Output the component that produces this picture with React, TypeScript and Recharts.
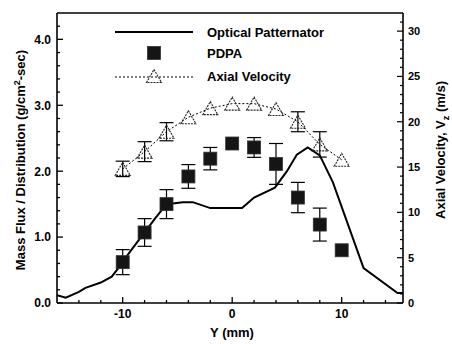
import React from 'react';
import { ComposedChart, Line, Scatter, XAxis, YAxis, ErrorBar, ReferenceLine, Label } from 'recharts';

// Optical patternator curve (Y in mm, mass flux g/cm^2-sec)
const opticalY = [-16, -15.2, -14, -13.4, -12, -11, -10.4, -10, -9, -8, -7, -6, -4.5, -3.6, -2, 0.9, 2, 3.9, 5, 5.9, 6.9, 8, 9.2, 12, 15.1, 15.6];
const opticalFlux = [0.12, 0.08, 0.17, 0.23, 0.31, 0.4, 0.53, 0.63, 0.85, 1.07, 1.29, 1.5, 1.53, 1.53, 1.44, 1.44, 1.6, 1.75, 2.0, 2.25, 2.36, 2.24, 1.83, 0.53, 0.15, 0.15];

// Measurement stations
const stations = [-10, -8, -6, -4, -2, 0, 2, 4, 6, 8, 10];
const pdpaFlux = [0.62, 1.07, 1.5, 1.92, 2.19, 2.42, 2.36, 2.11, 1.6, 1.19, 0.8];
const pdpaErr = [0.19, 0.21, 0.22, 0.18, 0.17, 0, 0.15, 0.31, 0.23, 0.25, 0];
const axialVel = [14.8, 16.7, 18.9, 20.5, 21.5, 22.0, 22.0, 21.4, 20.0, 17.5, 15.8];
const axialErr = [0.85, 1.1, 1.0, 0, 0, 0, 0, 0, 1.1, 1.4, 0];

// Ticks
const xTicks = [-14, -12, -10, -8, -6, -4, -2, 0, 2, 4, 6, 8, 10, 12, 14];
const xLabels = [-10, 0, 10];
const leftTicks = [0, 0.2, 0.4, 0.6, 0.8, 1, 1.2, 1.4, 1.6, 1.8, 2, 2.2, 2.4, 2.6, 2.8, 3, 3.2, 3.4, 3.6, 3.8, 4, 4.2];
const leftLabels = [0, 1, 2, 3, 4];
const rightTicks = [0, 1, 2, 3, 4, 5, 6, 7, 8, 9, 10, 11, 12, 13, 14, 15, 16, 17, 18, 19, 20, 21, 22, 23, 24, 25, 26, 27, 28, 29, 30, 31];
const rightLabels = [0, 5, 10, 15, 20, 25, 30];

const legendNames = ['Optical Patternator', 'PDPA', 'Axial Velocity'];

const FONT = '"Liberation Sans", Arial, Helvetica, sans-serif';

const opticalData = opticalY.map((y, i) => ({ y, m: opticalFlux[i] }));
const pdpaAll = stations.map((y, i) => ({ y, v: pdpaFlux[i], err: pdpaErr[i] }));
const pdpaWithErr = pdpaAll.filter((d) => d.err > 0);
const pdpaNoErr = pdpaAll.filter((d) => d.err === 0);
const velAll = stations.map((y, i) => ({ y, v: axialVel[i], err: axialErr[i] }));
const velWithErr = velAll.filter((d) => d.err > 0);
const velNoErr = velAll.filter((d) => d.err === 0);

const near = (a: number, list: number[]) => list.some((b) => Math.abs(a - b) < 1e-6);

const Square = (props: any) => {
  const { cx, cy } = props;
  if (cx == null || cy == null) return null;
  const s = 13;
  return <rect x={cx - s / 2} y={cy - s / 2} width={s} height={s} fill="#151515" stroke="#333" strokeWidth={0.8} />;
};

const Triangle = (props: any) => {
  const { cx, cy } = props;
  if (cx == null || cy == null) return null;
  const w = 15;
  const h = 13;
  const d = `M${cx},${cy - h / 2} L${cx + w / 2},${cy + h / 2} L${cx - w / 2},${cy + h / 2} Z`;
  return <path d={d} fill="none" stroke="#222" strokeWidth={1.1} strokeDasharray="2 1" />;
};

const XTick = (props: any) => {
  const { x, y, payload } = props;
  const v = payload.value;
  const major = near(v, xLabels);
  return (
    <g>
      <line x1={x} y1={y} x2={x} y2={y - (major ? 6 : 3)} stroke="#000" strokeWidth={1.3} />
      {major && (
        <text x={x} y={y + 15} textAnchor="middle" fontSize={12} fontWeight="bold" fontFamily={FONT} fill="#000">
          {v}
        </text>
      )}
    </g>
  );
};

const LeftTick = (props: any) => {
  const { x, y, payload } = props;
  const v = payload.value;
  const major = near(v, leftLabels);
  return (
    <g>
      <line x1={x} y1={y} x2={x + (major ? 6 : 3)} y2={y} stroke="#000" strokeWidth={1.3} />
      {major && (
        <text x={x - 6} y={y} dy="0.36em" textAnchor="end" fontSize={12} fontWeight="bold" fontFamily={FONT} fill="#000">
          {v.toFixed(1)}
        </text>
      )}
    </g>
  );
};

const RightTick = (props: any) => {
  const { x, y, payload } = props;
  const v = payload.value;
  const major = near(v, rightLabels);
  return (
    <g>
      <line x1={x} y1={y} x2={x - (major ? 6 : 3)} y2={y} stroke="#000" strokeWidth={1.2} />
      {major && (
        <text x={x + 5} y={y} dy="0.36em" textAnchor="start" fontSize={11} fontWeight="bold" fontFamily={FONT} fill="#000">
          {v}
        </text>
      )}
    </g>
  );
};

const XTitle = () => (
  <text x={232} y={337} textAnchor="middle" fontSize={13} fontWeight="bold" fontFamily={FONT} fill="#000">
    Y (mm)
  </text>
);

const LeftTitle = () => (
  <text
    x={0}
    y={0}
    transform="translate(25,160) rotate(-90)"
    textAnchor="middle"
    fontSize={13}
    fontWeight="bold"
    fontFamily={FONT}
    fill="#000"
  >
    Mass Flux / Distribution (g/cm
    <tspan dy={-5} fontSize={9}>2</tspan>
    <tspan dy={5}>-sec)</tspan>
  </text>
);

const RightTitle = () => (
  <text
    x={0}
    y={0}
    transform="translate(445,150) rotate(-90)"
    textAnchor="middle"
    fontSize={13}
    fontWeight="bold"
    fontFamily={FONT}
    fill="#000"
  >
    Axial Velocity, V
    <tspan dy={4} fontSize={9}>z</tspan>
    <tspan dy={-4}> (m/s)</tspan>
  </text>
);

const LegendBlock = () => (
  <g fontFamily={FONT} fontWeight="bold" fontSize={13} fill="#000">
    <line x1={115} y1={32} x2={193} y2={32} stroke="#000" strokeWidth={2} />
    <text x={207} y={37}>{legendNames[0]}</text>
    <Square cx={154} cy={53} />
    <text x={207} y={58}>{legendNames[1]}</text>
    <line x1={115} y1={77} x2={193} y2={77} stroke="#000" strokeWidth={1} strokeDasharray="2 2" />
    <Triangle cx={154} cy={76} />
    <text x={207} y={81}>{legendNames[2]}</text>
  </g>
);

export default function App() {
  return (
    <div style={{ position: 'absolute', left: 0, top: 0, width: 452, height: 344, background: '#fff' }}>
      <ComposedChart width={452} height={344} margin={{ top: 13, right: 0, bottom: 0, left: 0 }}>
        <XAxis
          xAxisId={0}
          type="number"
          dataKey="y"
          domain={[-16, 15.6]}
          allowDataOverflow
          ticks={xTicks}
          interval={0}
          tickSize={0}
          tickMargin={0}
          tickLine={false}
          tick={<XTick />}
          height={41}
          axisLine={{ stroke: '#000', strokeWidth: 1.6 }}
        >
          <Label content={() => <XTitle />} />
        </XAxis>
        <YAxis
          yAxisId="left"
          type="number"
          domain={[0, 4.4]}
          allowDataOverflow
          ticks={leftTicks}
          interval={0}
          tickSize={0}
          tickMargin={0}
          tickLine={false}
          tick={<LeftTick />}
          width={57}
          axisLine={{ stroke: '#000', strokeWidth: 1.6 }}
        >
          <Label content={() => <LeftTitle />} />
        </YAxis>
        <YAxis
          yAxisId="right"
          orientation="right"
          type="number"
          domain={[0, 32]}
          allowDataOverflow
          ticks={rightTicks}
          interval={0}
          tickSize={0}
          tickMargin={0}
          tickLine={false}
          tick={<RightTick />}
          width={49}
          axisLine={{ stroke: '#000', strokeWidth: 1.6 }}
        >
          <Label content={() => (
            <g>
              <RightTitle />
              <LegendBlock />
            </g>
          )} />
        </YAxis>
        <ReferenceLine yAxisId="left" y={4.4} stroke="#000" strokeWidth={1.6} />

        <Line
          data={velAll}
          yAxisId="right"
          dataKey="v"
          type="linear"
          stroke="#000"
          strokeWidth={1}
          strokeDasharray="2 2"
          dot={false}
          isAnimationActive={false}
        />
        <Line
          data={opticalData}
          yAxisId="left"
          dataKey="m"
          type="linear"
          stroke="#000"
          strokeWidth={2}
          dot={false}
          isAnimationActive={false}
        />
        <Scatter data={velWithErr} yAxisId="right" dataKey="v" shape={<Triangle />} isAnimationActive={false}>
          <ErrorBar dataKey="err" direction="y" width={7} stroke="#000" strokeWidth={1.2} />
        </Scatter>
        <Scatter data={velNoErr} yAxisId="right" dataKey="v" shape={<Triangle />} isAnimationActive={false} />
        <Scatter data={pdpaWithErr} yAxisId="left" dataKey="v" shape={<Square />} isAnimationActive={false}>
          <ErrorBar dataKey="err" direction="y" width={7} stroke="#000" strokeWidth={1.2} />
        </Scatter>
        <Scatter data={pdpaNoErr} yAxisId="left" dataKey="v" shape={<Square />} isAnimationActive={false} />
      </ComposedChart>
    </div>
  );
}
